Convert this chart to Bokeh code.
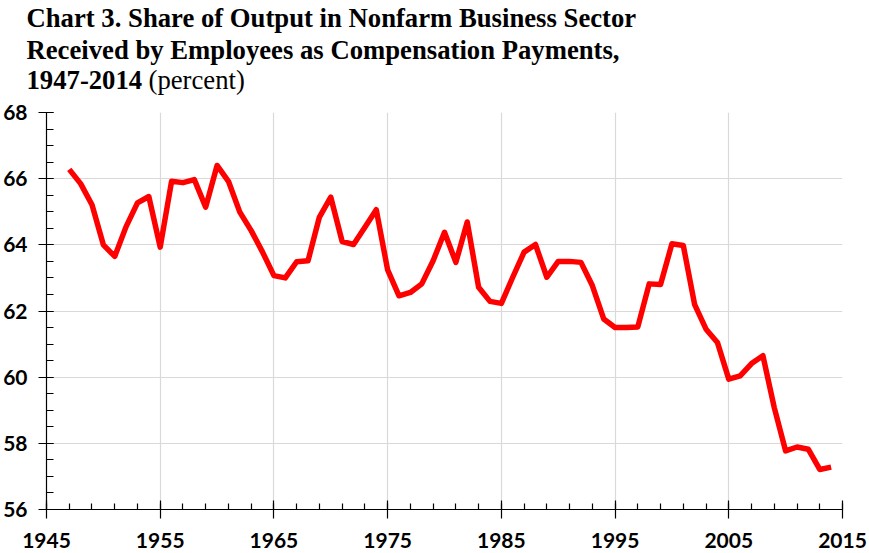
from bokeh.plotting import figure
from bokeh.layouts import column
from bokeh.models import Range1d, FixedTicker
from bokeh.core.properties import value
from bokeh.embed import file_html
from bokeh.resources import INLINE

years = list(range(1947, 2015))
share = [66.28, 65.85, 65.21, 64.00, 63.65, 64.55, 65.27, 65.46, 63.93, 65.92,
         65.88, 65.97, 65.14, 66.40, 65.92, 64.99, 64.43, 63.78, 63.07, 63.00,
         63.49, 63.52, 64.84, 65.44, 64.10, 64.01, 64.53, 65.06, 63.24, 62.46,
         62.56, 62.82, 63.52, 64.38, 63.47, 64.69, 62.72, 62.29, 62.23, 63.02,
         63.78, 64.01, 63.02, 63.50, 63.50, 63.47, 62.77, 61.76, 61.50, 61.50,
         61.52, 62.82, 62.80, 64.03, 63.98, 62.19, 61.45, 61.05, 59.94, 60.04,
         60.41, 60.65, 59.08, 57.77, 57.89, 57.82, 57.21, 57.28]

x_ticks = [1945, 1955, 1965, 1975, 1985, 1995, 2005, 2015]
x_minor_ticks = list(range(1945, 2016, 2))
y_ticks = [56, 58, 60, 62, 64, 66, 68]
y_minor_ticks = [56 + 0.5 * i for i in range(25)]

title_lines = ["Chart 3. Share of Output in Nonfarm Business Sector",
               "Received by Employees as Compensation Payments,",
               "1947-2014"]
title_unit = "(percent)"

W = 869
TH = 100          # title strip height
CH = 553 - TH     # chart height

# ---- title strip -------------------------------------------------------
t = figure(width=W, height=TH, output_backend="svg", toolbar_location=None,
           x_range=Range1d(0, W), y_range=Range1d(TH, 0),
           x_axis_type=None, y_axis_type=None, min_border=0)
t.frame_align = False
t.outline_line_color = None
t.xgrid.visible = False
t.ygrid.visible = False
TFS = "26.7px"
t.text(x=[26, 26, 26], y=[17.5, 49, 79], text=title_lines,
       text_font=value("Liberation Serif"), text_font_style="bold",
       text_font_size=TFS, text_color="black",
       text_baseline="alphabetic", text_align="left")
t.text(x=[148], y=[79], text=[title_unit],
       text_font=value("Liberation Serif"), text_font_style="normal",
       text_font_size=TFS, text_color="black",
       text_baseline="alphabetic", text_align="left")

# ---- chart -------------------------------------------------------------
p = figure(width=W, height=CH, output_backend="svg", toolbar_location=None,
           x_range=Range1d(1945, 2015), y_range=Range1d(56, 68),
           min_border_left=44, min_border_right=27, min_border_top=12,
           min_border_bottom=44)
p.frame_align = False
p.outline_line_color = None

p.line(years, share, line_color="#FF0000", line_width=5.5, line_join="round")

p.xaxis[0].ticker = FixedTicker(ticks=x_ticks, minor_ticks=x_minor_ticks)
p.yaxis[0].ticker = FixedTicker(ticks=y_ticks, minor_ticks=y_minor_ticks)

for ax in (p.xaxis[0], p.yaxis[0]):
    ax.axis_line_color = "black"
    ax.axis_line_width = 1.2
    ax.major_tick_line_color = "black"
    ax.minor_tick_line_color = "black"
    ax.major_tick_line_width = 1.2
    ax.minor_tick_line_width = 1.2
    ax.major_label_text_font = "Lato"
    ax.major_label_text_font_style = "bold"
    ax.major_label_text_font_size = "21px"
    ax.major_label_text_color = "black"

p.xaxis[0].major_tick_in = 9
p.xaxis[0].major_tick_out = 9
p.xaxis[0].minor_tick_in = 6
p.xaxis[0].minor_tick_out = 0
p.xaxis[0].major_label_standoff = 14
p.yaxis[0].major_tick_in = 7
p.yaxis[0].major_tick_out = 8
p.yaxis[0].minor_tick_in = 7
p.yaxis[0].minor_tick_out = 0
p.yaxis[0].major_label_standoff = 11

for g in (p.xgrid[0], p.ygrid[0]):
    g.grid_line_color = "#D9D9D9"
    g.grid_line_width = 1.2

layout = column(t, p, spacing=0)
open("out.html", "w").write(file_html(layout, INLINE))
